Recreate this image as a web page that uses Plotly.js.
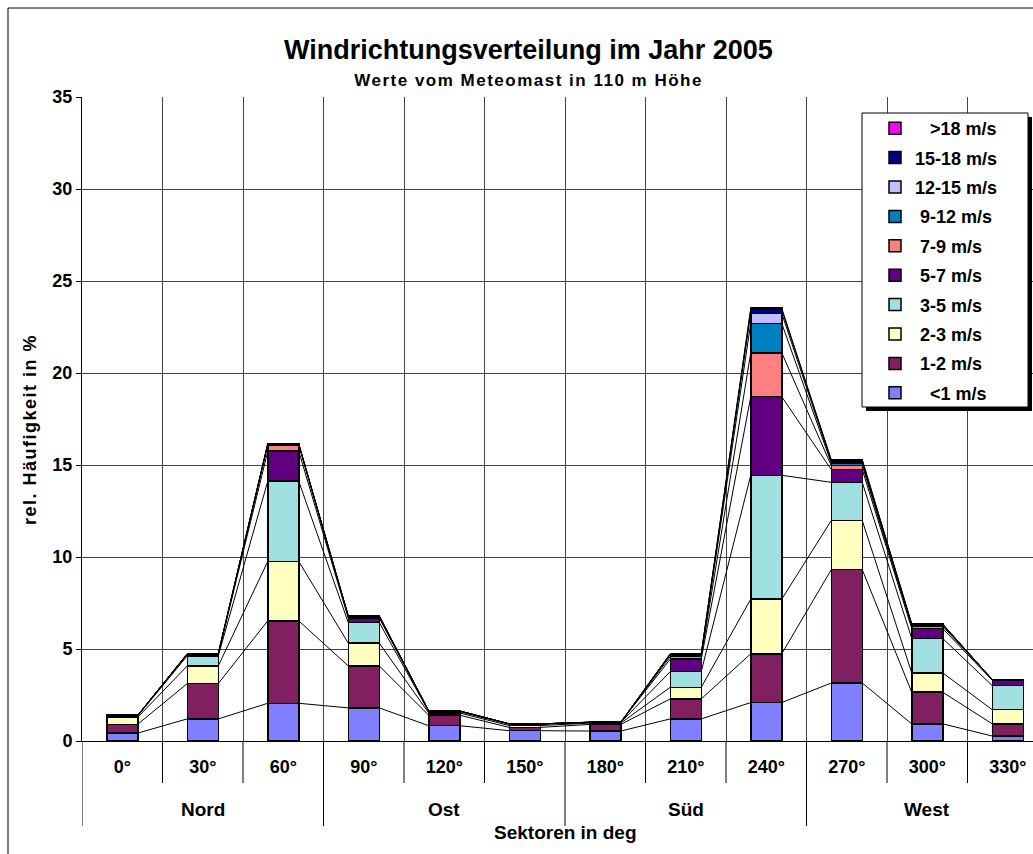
<!DOCTYPE html>
<html>
<head>
<meta charset="utf-8">
<script src="https://cdn.plot.ly/plotly-3.0.1.min.js"></script>
<style>
html,body{margin:0;padding:0;background:#fff;}
#chart{width:1033px;height:854px;}
.annotation[data-index="1"] text{letter-spacing:1.5px;}
.annotation[data-index="2"] text{letter-spacing:1.5px;}
</style>
</head>
<body>
<div id="chart"></div>
<script>
// ---- data ----
const categories = ["0°","30°","60°","90°","120°","150°","180°","210°","240°","270°","300°","330°"];
const groups = ["Nord","Ost","Süd","West"];
const seriesNames = ["<1 m/s","1-2 m/s","2-3 m/s","3-5 m/s","5-7 m/s","7-9 m/s","9-12 m/s","12-15 m/s","15-18 m/s",">18 m/s"];
const legendIndent = [3,1,1,1,1,1,1,0,0,3];
const seriesColors = ["#8080FF","#802060","#FFFFC0","#A0E0E0","#600080","#FF8080","#0080C0","#C0C0FF","#000080","#FF00FF"];
const s_lt1   = [0.43,1.20,2.05,1.80,0.83,0.56,0.54,1.20,2.09,3.15,0.93,0.27];
const s_1_2   = [0.48,1.92,4.48,2.28,0.57,0.18,0.36,1.09,2.65,6.16,1.72,0.66];
const s_2_3   = [0.38,0.96,3.23,1.24,0.12,0.10,0.07,0.63,2.97,2.67,1.05,0.77];
const s_3_5   = [0.07,0.55,4.36,1.12,0.07,0.07,0.04,0.85,6.73,2.08,1.87,1.31];
const s_5_7   = [0.02,0.07,1.63,0.24,0.03,0.02,0.01,0.68,4.27,0.69,0.54,0.29];
const s_7_9   = [0.01,0.02,0.33,0.07,0.01,0.00,0.00,0.14,2.39,0.22,0.12,0.03];
const s_9_12  = [0.01,0.01,0.05,0.03,0.00,0.00,0.00,0.09,1.60,0.13,0.07,0.01];
const s_12_15 = [0.00,0.01,0.02,0.02,0.00,0.00,0.00,0.04,0.54,0.08,0.04,0.00];
const s_15_18 = [0.00,0.00,0.00,0.00,0.00,0.00,0.00,0.02,0.20,0.07,0.01,0.00];
const s_gt18  = [0.00,0.00,0.00,0.00,0.00,0.00,0.00,0.00,0.08,0.05,0.00,0.00];
const seriesValues = [s_lt1,s_1_2,s_2_3,s_3_5,s_5_7,s_7_9,s_9_12,s_12_15,s_15_18,s_gt18];

// ---- styling constants ----
const FONT = "'Liberation Sans', Arial, sans-serif";
const BARW = 0.385;
const L = 82, T = 97, W = 951, H = 644;
const px2x = p => (p - L) / W;
const px2y = p => (T + H - p) / H;
const bold = s => ({family: FONT, size: s, color: '#000', weight: 'bold'});

const xIdx = categories.map((c, i) => i);
const traces = [];

// series lines connecting cumulative tops
const lx = [], ly = [];
const cum = categories.map(() => 0);
seriesValues.forEach(vals => {
  vals.forEach((v, i) => { cum[i] += v; });
  for (let i = 0; i < categories.length - 1; i++) {
    lx.push(xIdx[i] + BARW / 2, xIdx[i + 1] - BARW / 2, null);
    ly.push(cum[i], cum[i + 1], null);
  }
});

seriesValues.forEach((vals, k) => {
  traces.push({
    type: 'bar', x: xIdx, y: vals,
    name: '\u00A0'.repeat(legendIndent[k]) + seriesNames[k],
    width: BARW, legendgroup: 'g' + k, legendrank: 1000 - k,
    marker: {color: seriesColors[k], line: {color: '#000', width: 1.5}},
    hoverinfo: 'name+y'
  });
});
traces.push({type: 'scatter', mode: 'lines', x: lx, y: ly, showlegend: false,
  line: {color: '#000', width: 1}, hoverinfo: 'skip', connectgaps: false});

const shapes = [];
// category boundary dividers below axis
for (let b = 0; b <= categories.length; b++) {
  const isGroup = b % 3 === 0;
  shapes.push({type: 'line', xref: 'x', yref: 'paper', x0: b - 0.5, x1: b - 0.5,
    y0: 0, y1: isGroup ? px2y(826) : px2y(783), line: {color: '#000', width: 1}});
}
// outer frame
shapes.push({type: 'rect', xref: 'paper', yref: 'paper', x0: px2x(8), x1: 1.05, y0: -0.4, y1: px2y(8),
  line: {color: '#000', width: 1}, fillcolor: 'rgba(0,0,0,0)', layer: 'below'});
// legend shadow + box
shapes.push({type: 'rect', xref: 'paper', yref: 'paper', x0: px2x(866), x1: px2x(1032), y0: px2y(411), y1: px2y(117),
  line: {width: 0}, fillcolor: '#000', layer: 'above'});
shapes.push({type: 'rect', xref: 'paper', yref: 'paper', x0: px2x(862), x1: px2x(1028), y0: px2y(407), y1: px2y(113),
  line: {color: '#000', width: 1}, fillcolor: '#fff', layer: 'above'});

const annotations = [
  {text: 'Windrichtungsverteilung im Jahr 2005', xref: 'paper', yref: 'paper', x: px2x(528), y: px2y(50),
   xanchor: 'center', yanchor: 'middle', showarrow: false, font: bold(27)},
  {text: 'Werte vom Meteomast in 110 m Höhe', xref: 'paper', yref: 'paper', x: px2x(528), y: px2y(81),
   xanchor: 'center', yanchor: 'middle', showarrow: false, font: bold(17)},
  {text: 'rel. Häufigkeit in %', xref: 'paper', yref: 'paper', x: px2x(30), y: px2y(430), textangle: -90,
   xanchor: 'center', yanchor: 'middle', showarrow: false, font: bold(18)},
  {text: 'Sektoren in deg', xref: 'paper', yref: 'paper', x: px2x(565), y: px2y(832),
   xanchor: 'center', yanchor: 'middle', showarrow: false, font: bold(19)}
];
groups.forEach((g, gi) => {
  annotations.push({text: g, xref: 'x', yref: 'paper', x: gi * 3 + 1, y: px2y(809),
    xanchor: 'center', yanchor: 'middle', showarrow: false, font: bold(19)});
});

const layout = {
  width: 1033, height: 854,
  margin: {l: L, r: 1033 - L - W, t: T, b: 854 - T - H, pad: 0},
  paper_bgcolor: '#fff', plot_bgcolor: '#fff',
  barmode: 'stack',
  font: {family: FONT, color: '#000'},
  showlegend: true,
  legend: {x: px2x(875), y: px2y(110), xanchor: 'left', yanchor: 'top',
    bgcolor: 'rgba(0,0,0,0)', borderwidth: 0,
    traceorder: 'grouped', tracegroupgap: 3,
    font: bold(18)},
  xaxis: {type: 'linear', range: [-0.5, -0.5 + W / 80.5], fixedrange: true,
    tickmode: 'array', tickvals: xIdx, ticktext: categories, ticks: '',
    ticklabelstandoff: 9,
    showgrid: false, zeroline: false,
    showline: true, linecolor: '#000', linewidth: 1,
    tickfont: bold(18),
    minor: {tickmode: 'linear', tick0: -0.5, dtick: 1, showgrid: true, gridcolor: '#444', gridwidth: 1, ticks: ''}
  },
  yaxis: {range: [0, 35], dtick: 5, tick0: 0, fixedrange: true,
    ticks: 'outside', ticklen: 5, tickcolor: '#000',
    showgrid: true, gridcolor: '#444', gridwidth: 1, zeroline: false,
    showline: true, linecolor: '#000', linewidth: 1,
    tickfont: bold(18)},
  shapes: shapes,
  annotations: annotations
};

Plotly.newPlot('chart', traces, layout, {displayModeBar: false, staticPlot: true});
</script>
</body>
</html>
